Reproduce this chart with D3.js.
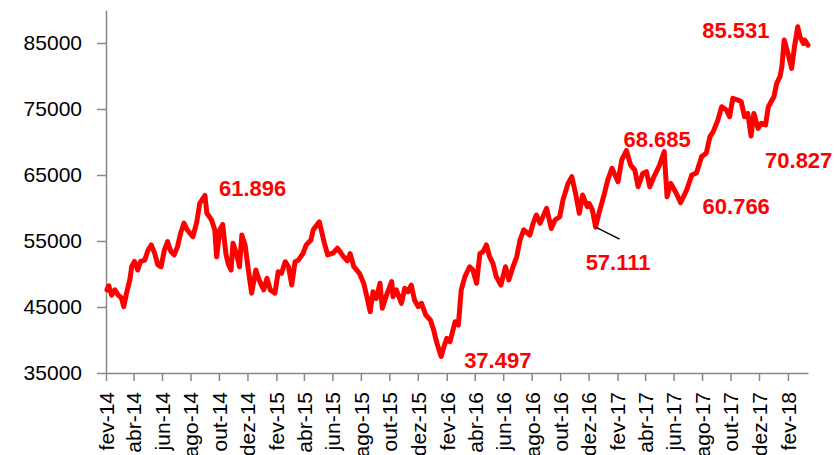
<!DOCTYPE html>
<html>
<head>
<meta charset="utf-8">
<script src="https://cdn.jsdelivr.net/npm/d3@7"></script>
<style>
  body { margin: 0; background: #fff; }
  svg { display: block; font-family: "Liberation Sans", Arial, sans-serif; }
</style>
</head>
<body>
<div id="chart"></div>
<script>
// Ibovespa, points
const dates = [
  "2014-02-03","2014-02-07","2014-02-13","2014-02-20","2014-02-27","2014-03-06","2014-03-11","2014-03-17",
  "2014-03-24","2014-03-28","2014-04-03","2014-04-10","2014-04-16","2014-04-25","2014-05-02","2014-05-09",
  "2014-05-16","2014-05-23","2014-05-30","2014-06-06","2014-06-13","2014-06-20","2014-06-27","2014-07-04",
  "2014-07-11","2014-07-18","2014-07-25","2014-08-06","2014-08-14","2014-08-21","2014-09-01","2014-09-05",
  "2014-09-15","2014-09-22","2014-09-26","2014-10-03","2014-10-09","2014-10-16","2014-10-21","2014-10-27",
  "2014-10-31","2014-11-07","2014-11-14","2014-11-19","2014-11-26","2014-12-02","2014-12-10","2014-12-19",
  "2014-12-26",
  "2015-01-05","2015-01-12","2015-01-19","2015-01-29","2015-02-05","2015-02-12","2015-02-20","2015-02-27",
  "2015-03-06","2015-03-13","2015-03-20","2015-03-30","2015-04-06","2015-04-16","2015-04-21","2015-05-04",
  "2015-05-08","2015-05-15","2015-05-22","2015-06-02","2015-06-12","2015-06-24","2015-07-03","2015-07-09",
  "2015-07-17","2015-07-29","2015-08-07","2015-08-14","2015-08-21","2015-08-27","2015-09-03","2015-09-11",
  "2015-09-16","2015-09-25","2015-10-06","2015-10-09","2015-10-16","2015-10-27","2015-11-03","2015-11-10",
  "2015-11-17","2015-11-24","2015-12-02","2015-12-09","2015-12-18","2015-12-28",
  "2016-01-04","2016-01-11","2016-01-20","2016-01-25","2016-02-01","2016-02-08","2016-02-19","2016-02-26",
  "2016-03-03","2016-03-11","2016-03-21","2016-03-28","2016-04-05","2016-04-12","2016-04-19","2016-04-26",
  "2016-05-03","2016-05-10","2016-05-17","2016-05-27","2016-06-06","2016-06-13","2016-06-22","2016-06-30",
  "2016-07-07","2016-07-15","2016-07-28","2016-08-04","2016-08-11","2016-08-19","2016-09-02","2016-09-12",
  "2016-09-20","2016-09-30","2016-10-07","2016-10-18","2016-10-26","2016-11-03","2016-11-11","2016-11-18",
  "2016-11-28","2016-12-02","2016-12-09","2016-12-16","2016-12-23",
  "2017-01-02","2017-01-11","2017-01-20","2017-02-02","2017-02-10","2017-02-20","2017-03-01","2017-03-10",
  "2017-03-17","2017-03-27","2017-04-04","2017-04-11","2017-04-20","2017-05-02","2017-05-12","2017-05-18",
  "2017-05-26","2017-06-07","2017-06-16","2017-06-29","2017-07-10","2017-07-20","2017-07-31","2017-08-10",
  "2017-08-18","2017-08-25","2017-09-04","2017-09-12","2017-09-22","2017-09-29","2017-10-06","2017-10-17",
  "2017-10-24","2017-10-31","2017-11-07","2017-11-14","2017-11-20","2017-11-29","2017-12-06","2017-12-15",
  "2017-12-21",
  "2018-01-02","2018-01-08","2018-01-15","2018-01-19","2018-01-24","2018-02-01","2018-02-09","2018-02-15",
  "2018-02-22","2018-02-27","2018-03-06","2018-03-09","2018-03-16"
];
const values = [
  47600,48200,46800,47600,46800,46400,45050,47100,
  49100,51100,51900,50600,51900,52100,53600,54400,
  53200,51400,51100,53600,54900,53400,52900,54100,
  56200,57700,56700,55650,57700,60750,61900,59240,
  58200,56700,52600,56700,57500,53000,51500,50600,
  54650,53200,51100,55900,54400,51100,47100,50600,
  49100,
  47600,49350,47600,47100,50350,50100,51860,51100,
  48330,51860,52100,53100,54400,55150,56700,57900,
  56700,54650,52900,53150,53900,52700,52000,53100,
  51100,50100,48600,46560,44300,47300,46300,48600,
  44800,46800,48850,46560,47600,45560,47830,47300,
  48330,46060,45050,45560,43790,43030,
  41510,39500,37500,38740,40260,39740,42770,42270,
  47600,49600,51100,50600,48600,53100,53400,54400,
  52600,51600,49600,48330,51100,49100,51100,52600,
  55150,56700,55900,57680,58940,57680,59950,56900,
  58180,58680,61200,63730,64740,62210,59180,61970,
  60200,60700,59700,57100,59180,
  61700,64240,66010,63990,67280,68700,66510,65750,
  63220,65240,65500,63220,64740,66510,68540,61700,
  63730,62210,60800,62720,65000,65300,67780,68290,
  70810,71570,73330,75350,74850,73830,76620,76360,
  76100,73830,74330,70900,74330,72060,72820,72570,
  75350,
  76870,78890,79900,81410,85450,83430,81160,84430,
  87450,85940,84930,85450,84680
];

const yTicks = [35000, 45000, 55000, 65000, 75000, 85000];
const xTickLabels = [
  "fev-14","abr-14","jun-14","ago-14","out-14","dez-14",
  "fev-15","abr-15","jun-15","ago-15","out-15","dez-15",
  "fev-16","abr-16","jun-16","ago-16","out-16","dez-16",
  "fev-17","abr-17","jun-17","ago-17","out-17","dez-17",
  "fev-18"
];

// labelled points
const annoDates = ["2014-09-01","2016-01-20","2016-12-16","2017-06-16","2017-02-20","2018-01-24","2017-11-14"];
const annoValues = [61896, 37497, 57111, 60766, 68685, 85531, 70827];
const annoText = ["61.896","37.497","57.111","60.766","68.685","85.531","70.827"];

const width = 834, height = 455;
const margin = { left: 106, right: 26, top: 10, bottom: 82 };
const parse = d3.timeParse("%Y-%m-%d");

const data = dates.map((d, i) => ({ date: parse(d), value: values[i] }));

const svg = d3.select("#chart").append("svg")
  .attr("width", width)
  .attr("height", height);

const x = d3.scaleTime()
  .domain([new Date(2014, 1, 1), new Date(2018, 2, 16)])
  .range([margin.left, width - margin.right]);

const y = d3.scaleLinear()
  .domain([35000, 90000])
  .range([height - margin.bottom, margin.top]);

const xTickDates = xTickLabels.map((_, i) => new Date(2014, 1 + 2 * i, 1));

// x axis
const xAxis = svg.append("g")
  .attr("transform", `translate(0,${height - margin.bottom})`)
  .call(d3.axisBottom(x)
    .tickValues(xTickDates)
    .tickFormat((d, i) => xTickLabels[i])
    .tickSize(8)
    .tickSizeOuter(0));

xAxis.selectAll("text")
  .attr("transform", "rotate(-90)")
  .attr("x", -19)
  .attr("y", 0)
  .attr("dy", "0.35em")
  .style("text-anchor", "end");

// y axis
const yAxis = svg.append("g")
  .attr("transform", `translate(${margin.left},0)`)
  .call(d3.axisLeft(y)
    .tickValues(yTicks)
    .tickFormat(d3.format("d"))
    .tickSize(9)
    .tickPadding(15)
    .tickSizeOuter(0));

svg.selectAll(".domain, .tick line")
  .attr("stroke", "#888")
  .attr("stroke-width", 1.5);
svg.selectAll(".tick text")
  .attr("fill", "#000")
  .style("font-size", "21px");

// the series
const line = d3.line()
  .x(d => x(d.date))
  .y(d => y(d.value));

svg.append("path")
  .datum(data)
  .attr("fill", "none")
  .attr("stroke", "#ff0000")
  .attr("stroke-width", 5)
  .attr("stroke-linejoin", "round")
  .attr("stroke-linecap", "round")
  .attr("d", line);

// annotation offsets from each labelled point
const annoOffsets = [[14, 1], [23, 11], [-10, 43], [22, 11], [-3, -4], [-82, -1], [14, 31]];

// leader line for 57.111
const lx = x(parse(annoDates[2])), ly = y(annoValues[2]);
svg.append("line")
  .attr("x1", lx).attr("y1", ly)
  .attr("x2", lx + 24).attr("y2", ly + 12)
  .attr("stroke", "#000")
  .attr("stroke-width", 1.5);

svg.selectAll(".anno")
  .data(annoText)
  .enter()
  .append("text")
  .attr("class", "anno")
  .attr("x", (d, i) => x(parse(annoDates[i])) + annoOffsets[i][0])
  .attr("y", (d, i) => y(annoValues[i]) + annoOffsets[i][1])
  .attr("fill", "#ff0000")
  .style("font-size", "22px")
  .style("font-weight", "bold")
  .text(d => d);
</script>
</body>
</html>
